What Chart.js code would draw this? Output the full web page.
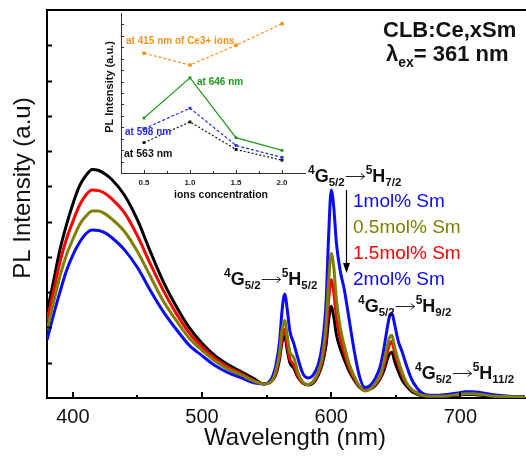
<!DOCTYPE html>
<html>
<head>
<meta charset="utf-8">
<script src="https://cdn.jsdelivr.net/npm/chart.js@4.4.1/dist/chart.umd.min.js"></script>
<style>
  body { margin: 0; background: #fff; }
  #wrap { position: relative; width: 526px; height: 456px; }
  #main { position: absolute; left: 0; top: 0; }
  #inset { position: absolute; left: 95px; top: 9px; }
</style>
</head>
<body>
<div id="wrap">
  <canvas id="main" width="526" height="456"></canvas>
  <canvas id="inset" width="215" height="195"></canvas>
</div>
<script>
// Wavelength grid (nm) of the PL spectra
const wl = [380,385,390,395,400,405,410,415,420,425,430,440,450,460,470,480,490,500,510,520,530,540,548,
  553,557,560,562,564,566,568,571,574,578,582,586,590,593,596,598,600,602,604,607,610,614,618,622,626,630,634,
  638,641,643,645,647,649,652,655,658,662,666,670,676,682,690,698,704,710,716,724,735,750];

// PL intensity (a.u.) of each sample
const black = [2.4,3.3,4.2,4.9,5.5,6.0,6.3,6.48,6.45,6.35,6.2,5.75,5.05,4.15,3.3,2.6,2.0,1.55,1.2,0.95,0.75,0.55,0.4,
  0.45,0.65,1.1,1.6,1.75,1.35,1.0,0.85,0.6,0.42,0.37,0.42,0.65,0.95,1.5,2.2,2.6,2.3,1.8,1.4,1.1,0.75,0.5,0.3,0.22,0.25,0.35,
  0.55,0.8,1.05,1.25,1.3,1.05,0.75,0.5,0.35,0.2,0.12,0.07,0.05,0.05,0.06,0.08,0.1,0.1,0.08,0.05,0.03,0.03];
const red = [2.2,3.0,3.85,4.5,5.0,5.45,5.75,5.9,5.88,5.8,5.65,5.25,4.6,3.8,3.05,2.4,1.85,1.45,1.12,0.88,0.7,0.5,0.4,
  0.45,0.7,1.2,1.75,1.95,1.5,1.1,0.95,0.65,0.42,0.38,0.45,0.7,1.05,1.8,2.8,3.35,3.0,2.3,1.7,1.3,0.85,0.55,0.32,0.22,0.26,0.38,
  0.6,0.95,1.25,1.5,1.6,1.3,0.95,0.65,0.42,0.25,0.15,0.1,0.07,0.07,0.08,0.11,0.13,0.13,0.11,0.08,0.05,0.04];
const olive = [1.93,2.7,3.45,4.05,4.5,4.9,5.15,5.3,5.3,5.22,5.08,4.72,4.15,3.45,2.75,2.2,1.7,1.35,1.05,0.82,0.66,0.48,0.4,
  0.45,0.75,1.3,1.95,2.2,1.75,1.3,1.15,0.75,0.45,0.38,0.47,0.75,1.15,2.1,3.3,4.1,3.7,2.8,2.0,1.5,0.95,0.6,0.33,0.2,0.25,0.4,
  0.65,1.05,1.4,1.7,1.78,1.45,1.05,0.72,0.45,0.25,0.14,0.08,0.05,0.05,0.06,0.1,0.12,0.12,0.1,0.06,0.04,0.03];
const blue = [1.64,2.35,3.0,3.6,4.05,4.4,4.65,4.76,4.75,4.68,4.55,4.2,3.7,3.05,2.45,1.95,1.5,1.2,0.92,0.72,0.58,0.43,0.4,
  0.5,0.9,1.6,2.5,2.95,2.5,1.9,1.55,1.15,0.7,0.57,0.65,0.95,1.5,2.7,4.6,5.9,5.4,4.4,3.6,3.1,2.2,1.3,0.6,0.3,0.35,0.55,
  0.9,1.45,1.9,2.3,2.4,2.1,1.6,1.3,0.95,0.55,0.3,0.15,0.08,0.08,0.1,0.14,0.18,0.18,0.15,0.1,0.06,0.04];

const xTicks = [400, 500, 600, 700];
const legendNames = ['1mol% Sm', '0.5mol% Sm', '1.5mol% Sm', '2mol% Sm'];

// inset: intensity vs Sm concentration
const conc = [0.5, 1.0, 1.5, 2.0];
const ce415 = [10.48, 9.45, 11.17, 13.06];
const sm646 = [4.81, 8.33, 3.09, 1.98];
const sm598 = [3.87, 5.67, 2.41, 1.37];
const sm563 = [2.66, 4.47, 2.06, 1.12];
const insetTicks = [0.5, 1.0, 1.5, 2.0];

const FONT = 'Arial, "Liberation Sans", sans-serif';
const C_BLUE = '#0a0aff', C_OLIVE = '#7f7f00', C_RED = '#ff0000', C_BLACK = '#000000';

const pts = ys => ys.map((y, i) => ({ x: wl[i], y: y }));

function txt(ctx, s, x, y, size, bold, color, align) {
  ctx.font = (bold ? 'bold ' : '') + size + 'px ' + FONT;
  ctx.fillStyle = color;
  ctx.textAlign = align || 'left';
  ctx.textBaseline = 'alphabetic';
  ctx.fillText(s, x, y);
  return ctx.measureText(s).width;
}

// "4G5/2 -> 5Hxx" transition label, arrow drawn as a thin line
function trans(ctx, x, y, sub) {
  let cx = x;
  cx += txt(ctx, '4', cx, y - 8, 12, true, '#111');
  cx += txt(ctx, 'G', cx, y, 18, true, '#111');
  cx += txt(ctx, '5/2', cx, y + 4, 11.5, true, '#111');
  const ay = y - 5.5;
  ctx.strokeStyle = '#222';
  ctx.lineWidth = 1;
  ctx.beginPath();
  ctx.moveTo(cx + 1, ay); ctx.lineTo(cx + 20, ay);
  ctx.moveTo(cx + 16, ay - 3); ctx.lineTo(cx + 20, ay); ctx.lineTo(cx + 16, ay + 3);
  ctx.stroke();
  cx += 21;
  cx += txt(ctx, '5', cx, y - 8, 12, true, '#111');
  cx += txt(ctx, 'H', cx, y, 18, true, '#111');
  txt(ctx, sub, cx, y + 4, 11.5, true, '#111');
}

const mainDeco = {
  id: 'mainDeco',
  afterDraw(chart) {
    const ctx = chart.ctx, a = chart.chartArea;
    const xs = chart.scales.x, ys = chart.scales.y;
    ctx.save();
    ctx.strokeStyle = '#000';
    ctx.lineWidth = 2;
    ctx.beginPath();
    ctx.moveTo(a.left - 1, a.top); ctx.lineTo(526, a.top);
    // inward ticks
    for (let v = 1; v <= 10; v++) {
      const y = Math.round(ys.getPixelForValue(v)) + 0.5;
      ctx.moveTo(a.left, y); ctx.lineTo(a.left + 5, y);
    }
    for (let v = 400; v <= 700; v += 50) {
      const x = Math.round(xs.getPixelForValue(v));
      ctx.moveTo(x, a.bottom); ctx.lineTo(x, a.bottom - (v % 100 === 0 ? 6 : 3));
    }
    ctx.stroke();

    // axis titles
    txt(ctx, 'Wavelength (nm)', 295, 445, 24, false, '#111', 'center');
    ctx.save();
    ctx.translate(30, 188);
    ctx.rotate(-Math.PI / 2);
    txt(ctx, 'PL Intensity (a.u)', 0, 0, 24, false, '#111', 'center');
    ctx.restore();

    // sample title
    txt(ctx, 'CLB:Ce,xSm', 383, 37, 22, true, '#111');
    let cx = 386;
    cx += txt(ctx, '\u03bb', cx, 61, 22, true, '#111');
    cx += txt(ctx, 'ex', cx, 67, 14, true, '#111');
    txt(ctx, '= 361 nm', cx, 61, 22, true, '#111');

    // transitions
    trans(ctx, 308, 182, '7/2');
    trans(ctx, 224, 285, '5/2');
    trans(ctx, 358, 312, '9/2');
    trans(ctx, 415, 379, '11/2');

    // legend
    const cols = [C_BLUE, C_OLIVE, C_RED, C_BLUE];
    legendNames.forEach((n, i) => txt(ctx, n, 353, 207 + i * 26, 19, false, cols[i]));
    ctx.lineWidth = 1.2;
    ctx.strokeStyle = '#000';
    ctx.beginPath();
    ctx.moveTo(346.5, 190); ctx.lineTo(346.5, 266);
    ctx.stroke();
    ctx.fillStyle = '#000';
    ctx.beginPath();
    ctx.moveTo(343, 263); ctx.lineTo(350, 263); ctx.lineTo(346.5, 273); ctx.closePath();
    ctx.fill();
    ctx.restore();
  }
};

const spec = (label, data, color) => ({
  label, data: pts(data), borderColor: color, borderWidth: 3, pointRadius: 0,
  cubicInterpolationMode: 'monotone', fill: false
});

new Chart(document.getElementById('main'), {
  type: 'line',
  data: {
    datasets: [
      spec('0.5mol% Sm', olive, C_OLIVE),
      spec('1mol% Sm', blue, C_BLUE),
      spec('1.5mol% Sm', red, C_RED),
      spec('2mol% Sm', black, C_BLACK)
    ]
  },
  options: {
    responsive: false, animation: false, devicePixelRatio: 1,
    layout: { padding: { top: 10, right: 1, left: 0, bottom: 0 } },
    plugins: { legend: { display: false }, tooltip: { enabled: false } },
    scales: {
      x: {
        type: 'linear', min: 380, max: 750,
        grid: { display: false, drawTicks: false },
        border: { display: true, color: '#000', width: 2 },
        afterBuildTicks: s => { s.ticks = xTicks.map(v => ({ value: v })); },
        afterFit: s => { s.height = 58; },
        ticks: { color: '#111', padding: 7, maxRotation: 0, font: { family: FONT, size: 20 } }
      },
      y: {
        min: 0, max: 11,
        grid: { display: false, drawTicks: false },
        border: { display: true, color: '#000', width: 2 },
        ticks: { display: false },
        afterFit: s => { s.width = 47; }
      }
    }
  },
  plugins: [mainDeco]
});

// ---- inset ----
const insetDeco = {
  id: 'insetDeco',
  afterDraw(chart) {
    const ctx = chart.ctx, a = chart.chartArea;
    const xs = chart.scales.x, ys = chart.scales.y;
    ctx.save();
    ctx.strokeStyle = '#333';
    ctx.lineWidth = 1;
    ctx.beginPath();
    for (let v = 1; v <= 13; v++) {
      const y = Math.round(ys.getPixelForValue(v)) + 0.5;
      ctx.moveTo(a.left, y); ctx.lineTo(a.left + 3, y);
    }
    for (let v = 0.5; v <= 2.0; v += 0.25) {
      const x = Math.round(xs.getPixelForValue(v)) + 0.5;
      ctx.moveTo(x, a.bottom); ctx.lineTo(x, a.bottom - (v % 0.5 === 0 ? 3 : 2));
    }
    ctx.stroke();

    txt(ctx, 'ions concentration', 126, 189, 10.5, true, '#111', 'center');
    ctx.save();
    ctx.translate(18, 78);
    ctx.rotate(-Math.PI / 2);
    txt(ctx, 'PL Intensity (a.u.)', 0, 0, 11, true, '#111', 'center');
    ctx.restore();

    txt(ctx, 'at 415 nm of Ce3+ ions', 31, 35, 10, true, '#f7931e');
    txt(ctx, 'at 646 nm', 102, 76, 10, true, '#1e9a1e');
    txt(ctx, 'at 598 nm', 30, 126, 10, true, '#2a2aee');
    txt(ctx, 'at 563 nm', 29, 148, 10.5, true, '#111');
    ctx.restore();
  }
};

const ser = (data, color, dash, style) => ({
  data: data.map((y, i) => ({ x: conc[i], y: y })), borderColor: color, backgroundColor: color,
  borderWidth: 1.2, borderDash: dash, pointStyle: style, pointRadius: 2, pointBorderWidth: 0, tension: 0
});

new Chart(document.getElementById('inset'), {
  type: 'line',
  data: {
    datasets: [
      ser(sm646, '#1e9a1e', [], 'rect'),
      ser(ce415, '#f7931e', [3, 2], 'circle'),
      ser(sm598, '#2a2aee', [3, 2], 'rect'),
      ser(sm563, '#111111', [2, 2], 'rect')
    ]
  },
  options: {
    responsive: false, animation: false, devicePixelRatio: 1,
    layout: { padding: { top: 1, right: 5, left: 0, bottom: 0 } },
    plugins: { legend: { display: false }, tooltip: { enabled: false } },
    scales: {
      x: {
        type: 'linear', min: 0.25, max: 2.25,
        grid: { display: false, drawTicks: false },
        border: { display: true, color: '#333', width: 1 },
        afterBuildTicks: s => { s.ticks = insetTicks.map(v => ({ value: v })); },
        afterFit: s => { s.height = 31; },
        ticks: { color: '#222', padding: 5, maxRotation: 0, font: { family: FONT, size: 8, weight: 'bold' },
                 callback: v => Number(v).toFixed(1) }
      },
      y: {
        min: 0, max: 14,
        grid: { display: false, drawTicks: false },
        border: { display: true, color: '#333', width: 1 },
        ticks: { display: false },
        afterFit: s => { s.width = 26; }
      }
    }
  },
  plugins: [insetDeco]
});
</script>
</body>
</html>
